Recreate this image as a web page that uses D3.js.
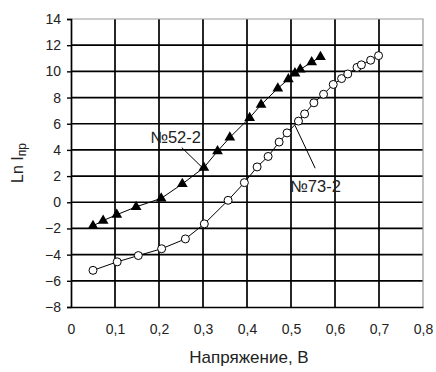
<!DOCTYPE html>
<html>
<head>
<meta charset="utf-8">
<script src="https://cdn.jsdelivr.net/npm/d3@7"></script>
<style>
  body { margin: 0; background: #fff; }
  text { font-family: Arial, "Liberation Sans", sans-serif; fill: #222; }
</style>
</head>
<body>
<div id="chart"></div>
<script>
// voltage (V) and ln I for sample No52-2 (triangles)
var volt52 = [0.05, 0.073, 0.104, 0.148, 0.205, 0.253, 0.302, 0.333, 0.361, 0.406, 0.432, 0.47, 0.494, 0.509, 0.521, 0.547, 0.567];
var lnI52  = [-1.8, -1.4, -0.95, -0.35, 0.3, 1.4, 2.65, 3.9, 4.95, 6.45, 7.45, 8.7, 9.4, 9.85, 10.15, 10.7, 11.1];

// sample No73-2 (open circles)
var volt73 = [0.05, 0.105, 0.153, 0.206, 0.26, 0.303, 0.357, 0.394, 0.423, 0.448, 0.473, 0.491, 0.517, 0.531, 0.552, 0.574, 0.596, 0.615, 0.629, 0.65, 0.66, 0.681, 0.699];
var lnI73  = [-5.2, -4.55, -4.07, -3.55, -2.8, -1.65, 0.15, 1.5, 2.7, 3.5, 4.6, 5.3, 6.2, 6.75, 7.6, 8.25, 9.0, 9.45, 9.8, 10.3, 10.5, 10.85, 11.2];

var xTicks = [0, 0.1, 0.2, 0.3, 0.4, 0.5, 0.6, 0.7, 0.8];
var xTickLabels = ["0", "0,1", "0,2", "0,3", "0,4", "0,5", "0,6", "0,7", "0,8"];
var yTicks = [-8, -6, -4, -2, 0, 2, 4, 6, 8, 10, 12, 14];

// callout labels: text, where the text sits, leader line from/to (data units)
var labels = ["№52-2", "№73-2"];
var labelPos = [[0.18, 4.5], [0.498, 0.76]];
var leaderFrom = [[0.2516, 4.18], [0.509, 5.88]];
var leaderTo = [[0.297, 2.7], [0.555, 2.6]];

var width = 436, height = 372;
var svg = d3.select("#chart").append("svg").attr("width", width).attr("height", height);

var x = d3.scaleLinear().domain([0, 0.8]).range([71, 423]);
var y = d3.scaleLinear().domain([-8, 14]).range([307, 19]);

// grid
svg.append("g").selectAll("line.vg")
    .data(xTicks.slice(1, -1))
    .enter().append("line")
    .attr("x1", d => x(d)).attr("x2", d => x(d))
    .attr("y1", y(14)).attr("y2", y(-8))
    .attr("stroke", "#000").attr("stroke-width", 1.7);

svg.append("g").selectAll("line.hg")
    .data(yTicks.slice(1, -1))
    .enter().append("line")
    .attr("x1", x(0)).attr("x2", x(0.8))
    .attr("y1", d => y(d)).attr("y2", d => y(d))
    .attr("stroke", "#000").attr("stroke-width", 1.7);

// top / right border is grey
svg.append("path")
    .attr("d", "M" + x(0) + "," + y(14) + "H" + x(0.8) + "V" + y(-8))
    .attr("fill", "none").attr("stroke", "#999").attr("stroke-width", 1.2);

// left axis
var yAxis = svg.append("g")
    .attr("transform", "translate(" + x(0) + ",0)")
    .call(d3.axisLeft(y).tickValues(yTicks).tickSize(4).tickPadding(6).tickFormat(d3.format("d")));
yAxis.select(".domain").attr("stroke", "#000").attr("stroke-width", 1.7);
yAxis.selectAll(".tick line").attr("stroke", "#000").attr("stroke-width", 1.4);
yAxis.selectAll("text").style("font-size", "14px").attr("fill", "#222");

// bottom axis, no tick marks
var xAxis = svg.append("g")
    .attr("transform", "translate(0," + y(-8) + ")")
    .call(d3.axisBottom(x).tickValues(xTicks).tickSize(0).tickPadding(17)
        .tickFormat((d, i) => xTickLabels[i]));
xAxis.select(".domain").attr("stroke", "#000").attr("stroke-width", 1.7);
xAxis.selectAll("text").style("font-size", "14px").attr("fill", "#222");

// axis titles
svg.append("text")
    .attr("x", (x(0) + x(0.8)) / 2 + 2).attr("y", 363)
    .attr("text-anchor", "middle")
    .style("font-size", "17px")
    .text("Напряжение, В");

var yt = svg.append("text")
    .attr("transform", "translate(23," + (y(3)) + ") rotate(-90)")
    .attr("text-anchor", "middle")
    .style("font-size", "16px");
yt.append("tspan").text("Ln I");
yt.append("tspan").attr("dy", 3).style("font-size", "12px").text("пр");

// series
var line = d3.line().x(d => x(d[0])).y(d => y(d[1]));
var pts52 = d3.zip(volt52, lnI52);
var pts73 = d3.zip(volt73, lnI73);

svg.append("path").datum(pts52).attr("d", line)
    .attr("fill", "none").attr("stroke", "#000").attr("stroke-width", 1);
svg.append("path").datum(pts73).attr("d", line)
    .attr("fill", "none").attr("stroke", "#000").attr("stroke-width", 1);

svg.append("g").selectAll("path")
    .data(pts52)
    .enter().append("path")
    .attr("transform", d => "translate(" + x(d[0]) + "," + y(d[1]) + ")")
    .attr("d", d3.symbol().type(d3.symbolTriangle).size(50))
    .attr("fill", "#000");

svg.append("g").selectAll("circle")
    .data(pts73)
    .enter().append("circle")
    .attr("cx", d => x(d[0])).attr("cy", d => y(d[1]))
    .attr("r", 4)
    .attr("fill", "#fff").attr("stroke", "#000").attr("stroke-width", 1);

// callouts
labels.forEach(function(t, i) {
    svg.append("line")
        .attr("x1", x(leaderFrom[i][0])).attr("y1", y(leaderFrom[i][1]))
        .attr("x2", x(leaderTo[i][0])).attr("y2", y(leaderTo[i][1]))
        .attr("stroke", "#000").attr("stroke-width", 1);
    svg.append("text")
        .attr("x", x(labelPos[i][0])).attr("y", y(labelPos[i][1]))
        .style("font-size", "16.5px")
        .text(t);
});
</script>
</body>
</html>
